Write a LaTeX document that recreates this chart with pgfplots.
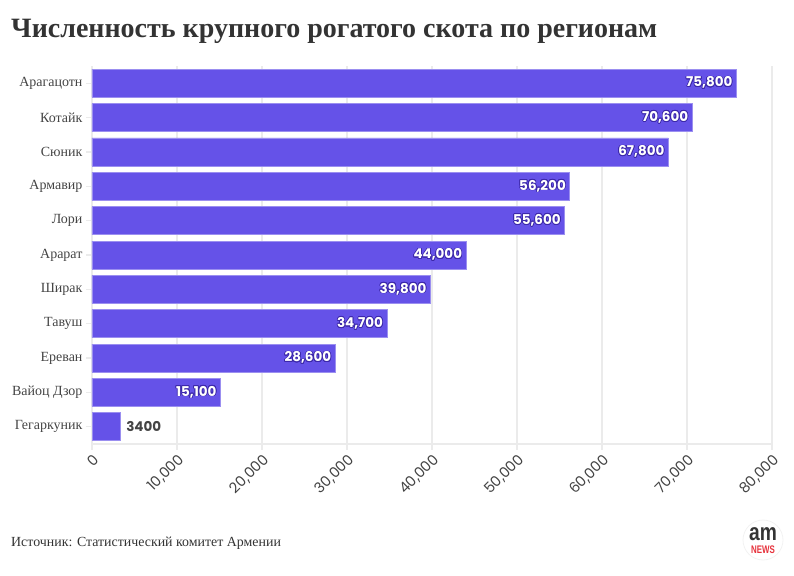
\documentclass[border=0pt]{standalone}
\usepackage{pgfplots}
\pgfplotsset{compat=1.18}
\usepackage{pgfplotstable}
\usepackage{fontspec}
\usepackage{contour}
\contourlength{0.7pt}
\contournumber{16}
\setmainfont{Liberation Serif}
\newfontfamily\poppins{Poppins}
\newfontfamily\libsans{Liberation Sans}
\definecolor{barc}{RGB}{101,82,232}
\definecolor{halo}{RGB}{60,40,170}
\definecolor{txt}{RGB}{68,68,68}
\definecolor{ttl}{RGB}{51,51,51}
\definecolor{gridc}{RGB}{235,235,235}
\definecolor{amred}{RGB}{230,50,60}

\pgfplotstableread{
y x label
0 75800 75,800
1 70600 70,600
2 67800 67,800
3 56200 56,200
4 55600 55,600
5 44000 44,000
6 39800 39,800
7 34700 34,700
8 28600 28,600
9 15100 15,100
}\datain

\begin{document}
\begin{tikzpicture}[x=1pt,y=1pt]
\path[use as bounding box] (-92,-131) rectangle (702,444);
\begin{axis}[
  at={(0,0)}, anchor=south west,
  scale only axis, width=680pt, height=378pt,
  xmin=0, xmax=80000, ymin=-0.5, ymax=10.5,
  y dir=reverse,
  xbar, bar width=28pt, bar shift=0pt,
  xtick={0,10000,...,80000},
  scaled x ticks=false,
  ytick={0,...,10},
  yticklabels={Арагацотн,Котайк,Сюник,Армавир,Лори,Арарат,Ширак,Тавуш,Ереван,Вайоц Дзор,Гегаркуник},
  axis x line*=bottom, axis y line*=left,
  x axis line style={-, draw=gridc, line width=1.3pt},
  y axis line style={draw=none},
  xmajorgrids, grid style={draw=gridc, line width=1.3pt},
  tick align=outside, major tick length=6pt,
  tick style={draw=gridc, line width=1.3pt},
  xtick pos=bottom, ytick pos=left,
  x tick label style={rotate=45, anchor=north east, font=\poppins\fontsize{14.5}{14.5}\selectfont, text=txt, inner sep=2pt},
  y tick label style={font=\fontsize{14}{14}\selectfont, text=txt},
  /pgf/number format/.cd, 1000 sep={,}, assume math mode=true,
]
\addplot[fill=barc, draw=barc!65!white, line width=0.8pt,
  nodes near coords={\contour{halo}{\pgfplotspointmeta}}, point meta=explicit symbolic,
  nodes near coords style={anchor=east, text=white, font=\poppins\bfseries\fontsize{13.5}{13.5}\selectfont, inner sep=3.5pt}]
  table[x=x, y=y, meta=label] {\datain};
\addplot[fill=barc, draw=barc!65!white, line width=0.8pt,
  nodes near coords, point meta=explicit symbolic,
  nodes near coords style={anchor=west, text=txt, font=\poppins\bfseries\fontsize{13.5}{13.5}\selectfont, inner sep=5pt}]
  coordinates {(3400,10) [3400]};
\end{axis}
\node[anchor=base west, inner sep=0, text=ttl, font=\bfseries\fontsize{28}{28}\selectfont] at (-81,406) {Численность крупного рогатого скота по регионам};
\node[anchor=base west, inner sep=0, text=ttl, font=\fontsize{13.9}{13.9}\selectfont] at (-81,-102) {Источник: Статистический комитет Армении};
\draw[gray!10, line width=0.8pt] (671,-96) circle (20);
\node[inner sep=0, text=ttl, font=\libsans\bfseries\fontsize{24}{24}\selectfont, xscale=0.8] at (671,-90) {am};
\node[inner sep=0, text=amred, font=\libsans\bfseries\fontsize{11}{11}\selectfont, xscale=0.72] at (671,-105.5) {NEWS};
\end{tikzpicture}
\end{document}
